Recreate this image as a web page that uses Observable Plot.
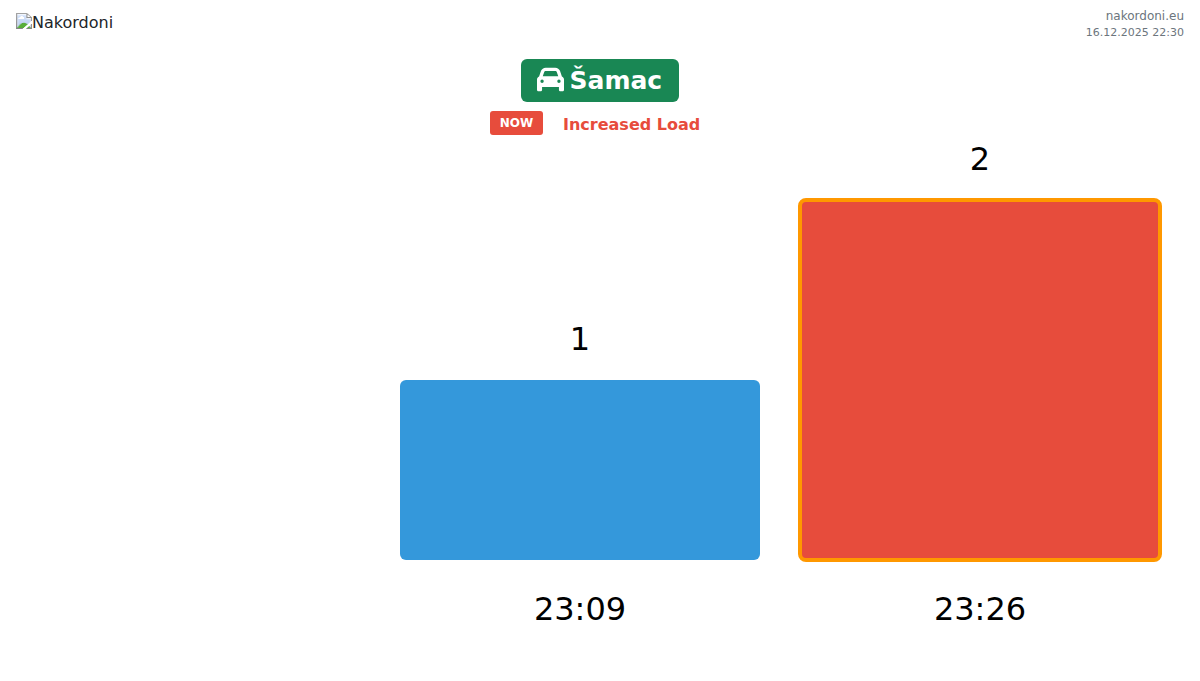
<!DOCTYPE html>
<html>
<head>
<meta charset="utf-8">
<script src="https://cdn.jsdelivr.net/npm/d3@7"></script>
<script src="https://cdn.jsdelivr.net/npm/@observablehq/plot@0.6"></script>
<style>
html,body{margin:0;padding:0;background:#fff;font-family:"DejaVu Sans",sans-serif;width:1200px;height:681px;overflow:hidden}
#page{position:relative;width:1200px;height:681px}
#logo{position:absolute;left:16px;top:13px;font-size:16px;color:#212529;line-height:19px}
#stamp{position:absolute;right:16px;top:9px;text-align:right;font-size:12px;line-height:15.5px;color:#6c757d}
#stamp small{font-size:11px}
#title{position:absolute;left:521px;top:59px;width:158px;height:43px;background:#198754;border-radius:6px;color:#fff;font-weight:700;font-size:25px;line-height:44px;white-space:nowrap}
#title svg{position:absolute;left:16px;top:7px;width:27px;height:27px;fill:#fff}
#title span{position:absolute;left:48.5px;top:0}
#now{position:absolute;left:490px;top:111px;width:53px;height:24px;background:#e74c3c;border-radius:3px;color:#fff;font-weight:700;font-size:12px;line-height:24px;text-align:center}
#state{position:absolute;left:563px;top:116px;color:#e74c3c;font-weight:700;font-size:16px;line-height:18px;white-space:nowrap}
#chart{position:absolute;left:0;top:145px}
#chart svg{display:block;background:transparent}
</style>
</head>
<body>
<div id="page">
  <img id="logo" src="logo-missing.png" alt="Nakordoni">
  <div id="stamp">nakordoni.eu<br><small>16.12.2025 22:30</small></div>
  <div id="title"><svg viewBox="0 0 512 512"><path d="M135.2 117.4L109.1 192H402.9l-26.1-74.6C372.3 104.6 360.2 96 346.6 96H165.4c-13.6 0-25.7 8.6-30.2 21.4zM39.6 196.8L74.8 96.3C88.3 57.8 124.6 32 165.4 32H346.6c40.8 0 77.1 25.8 90.6 64.3l35.2 100.5c23.2 9.6 39.6 32.5 39.6 59.2V400v48c0 17.7-14.3 32-32 32H448c-17.7 0-32-14.3-32-32V400H96v48c0 17.7-14.3 32-32 32H32c-17.7 0-32-14.3-32-32V400 256c0-26.7 16.4-49.6 39.6-59.2zM128 288a32 32 0 1 0 -64 0 32 32 0 1 0 64 0zm288 32a32 32 0 1 0 0-64 32 32 0 1 0 0 64z"/></svg><span>Šamac</span></div>
  <div id="now">NOW</div>
  <div id="state">Increased Load</div>
  <div id="chart"></div>
</div>
<script>
const times = ["", "23:09", "23:26"];
const counts = [null, 1, 2];
const levels = ["none", "normal", "high"];

const rows = times.map((time, i) => ({time, count: counts[i], level: levels[i]})).filter(d => d.count != null);

const plot = Plot.plot({
  width: 1200,
  height: 536,
  marginLeft: 0,
  marginRight: 40,
  marginTop: 55,
  marginBottom: 121,
  style: {fontFamily: '"DejaVu Sans", sans-serif', background: "transparent", overflow: "visible"},
  x: {domain: times, padding: 0.1, paddingOuter: 0, align: 0, label: null},
  y: {domain: [0, 2], axis: null},
  color: {domain: ["normal", "high"], range: ["#3498db", "#e74c3c"]},
  marks: [
    Plot.barY(rows, {x: "time", y: "count", fill: "level", rx: 6,
      stroke: d => d.level === "high" ? "#ff9800" : "none", strokeWidth: 4}),
    Plot.text(rows, {x: "time", y: "count", text: d => String(d.count), dy: -41, dx: -0.5, fontSize: 32, fill: "#000"}),
    Plot.axisX({tickSize: 0, tickPadding: 0, label: null, fontSize: 32, fill: "#000", dy: 37, dx: -0.5,
      tickFormat: d => d, ticks: times.filter(t => t)})
  ]
});
document.getElementById("chart").appendChild(plot);
</script>
</body>
</html>
